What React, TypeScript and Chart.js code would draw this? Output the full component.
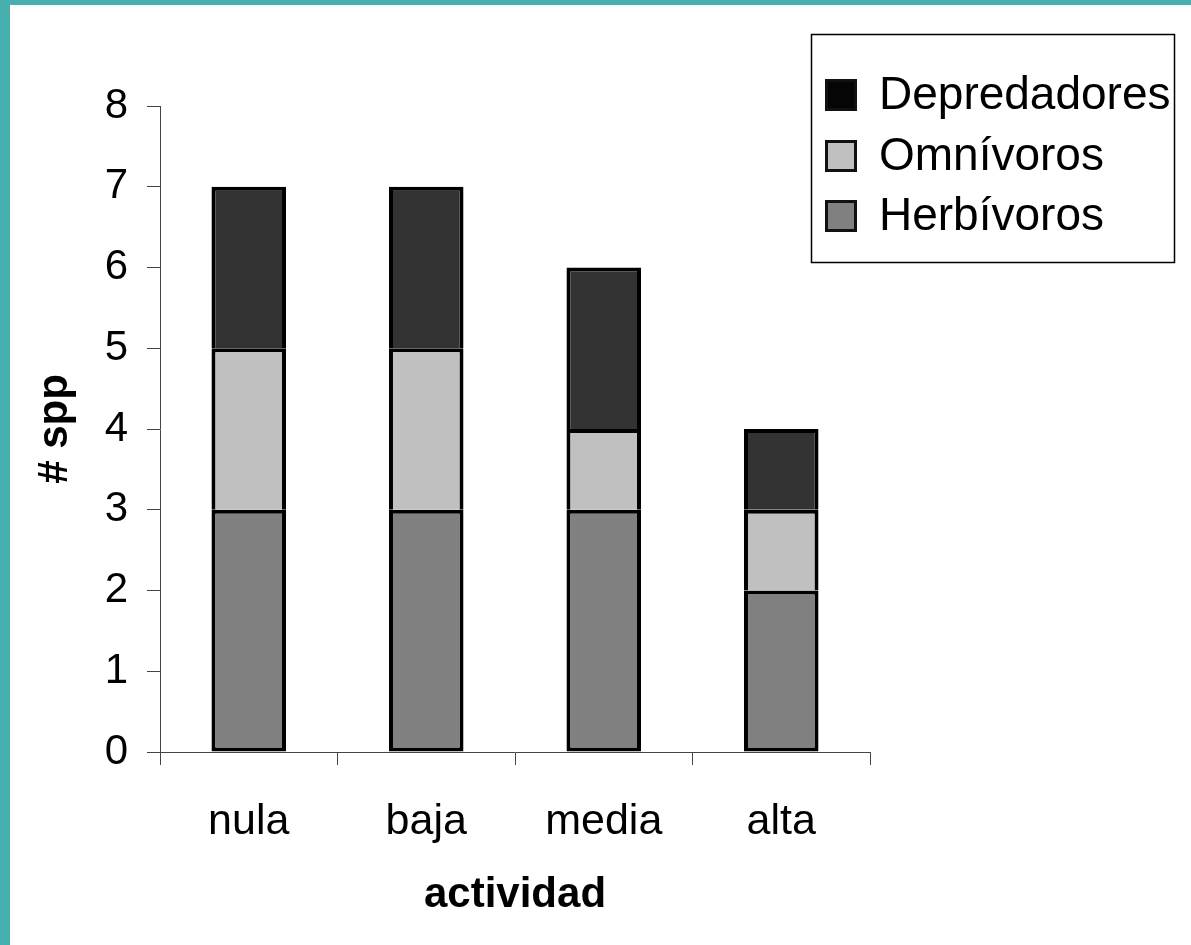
import React, { useEffect, useRef } from "react";
import { Chart, registerables } from "chart.js";

Chart.register(...registerables);

const categories = ["nula", "baja", "media", "alta"];
const herbivoros = [3, 3, 3, 2];
const omnivoros = [2, 2, 1, 1];
const depredadores = [2, 2, 2, 1];
const yMin = 0;
const yMax = 8;
const yStep = 1;
const xTitle = "actividad";
const yTitle = "# spp";
const legendLabels = ["Depredadores", "Omnívoros", "Herbívoros"];

const FONT = "'Liberation Sans', Arial, sans-serif";

const legendPlugin = {
  id: "customLegend",
  afterDraw(chart: any) {
    const ctx = chart.ctx;
    ctx.save();
    ctx.strokeStyle = "#000";
    ctx.lineWidth = 1.5;
    ctx.strokeRect(811.5, 34.5, 363, 228);
    const items = [
      { label: legendLabels[0], fill: "#050505", top: 79, base: 109 },
      { label: legendLabels[1], fill: "#C0C0C0", top: 140, base: 170 },
      { label: legendLabels[2], fill: "#808080", top: 200, base: 230 },
    ];
    ctx.font = `46px ${FONT}`;
    ctx.textBaseline = "alphabetic";
    ctx.textAlign = "left";
    for (const it of items) {
      ctx.fillStyle = it.fill;
      ctx.fillRect(825, it.top, 32, 32);
      ctx.lineWidth = 3;
      ctx.strokeStyle = "#111";
      ctx.strokeRect(826.5, it.top + 1.5, 29, 29);
      ctx.fillStyle = "#000";
      ctx.fillText(it.label, 879, it.base);
    }
    ctx.restore();
  },
};

export default function App() {
  const ref = useRef<HTMLCanvasElement | null>(null);

  useEffect(() => {
    const canvas = ref.current;
    if (!canvas) return;
    const chart = new Chart(canvas, {
      type: "bar",
      data: {
        labels: categories,
        datasets: [
          {
            label: legendLabels[2],
            data: herbivoros,
            backgroundColor: "#808080",
            borderColor: "#000",
            borderWidth: 4,
            borderSkipped: false,
          },
          {
            label: legendLabels[1],
            data: omnivoros,
            backgroundColor: "#C0C0C0",
            borderColor: "#000",
            borderWidth: 4,
            borderSkipped: "start",
          },
          {
            label: legendLabels[0],
            data: depredadores,
            backgroundColor: "#333333",
            borderColor: "#000",
            borderWidth: 4,
            borderSkipped: "start",
          },
        ],
      },
      options: {
        responsive: false,
        animation: false,
        devicePixelRatio: 1,
        datasets: {
          bar: { categoryPercentage: 1, barPercentage: 0.42 },
        },
        layout: { padding: { left: 0, top: 106, right: 321, bottom: 0 } },
        plugins: {
          legend: { display: false },
          tooltip: { enabled: false },
        },
        scales: {
          x: {
            stacked: true,
            offset: true,
            afterFit: (s: any) => {
              s.height = 945 - 752;
            },
            grid: {
              offset: true,
              drawOnChartArea: false,
              drawTicks: true,
              tickLength: 13,
              color: "#444",
              lineWidth: 1,
            },
            border: { display: true, color: "#444", width: 1 },
            ticks: {
              color: "#000",
              font: { family: FONT, size: 43 },
              padding: 31,
            },
            title: {
              display: true,
              text: xTitle,
              color: "#000",
              font: { family: FONT, size: 42, weight: "bold" },
              padding: { top: 0, bottom: 24 },
            },
          },
          y: {
            stacked: true,
            min: yMin,
            max: yMax,
            afterFit: (s: any) => {
              s.width = 160;
            },
            grid: {
              drawOnChartArea: false,
              drawTicks: true,
              tickLength: 13,
              color: "#444",
              lineWidth: 1,
            },
            border: { display: true, color: "#444", width: 1 },
            ticks: {
              stepSize: yStep,
              color: "#000",
              font: { family: FONT, size: 42 },
              padding: 19,
            },
            title: {
              display: true,
              text: yTitle,
              color: "#000",
              font: { family: FONT, size: 42, weight: "bold" },
              padding: { top: 30, bottom: 0 },
            },
          },
        },
      },
      plugins: [legendPlugin],
    });
    return () => chart.destroy();
  }, []);

  return (
    <div
      style={{
        position: "fixed",
        left: 0,
        top: 0,
        width: 1191,
        height: 945,
        background: "#47AFAD",
        overflow: "hidden",
      }}
    >
      <div
        style={{
          position: "absolute",
          left: 10,
          top: 5,
          width: 1181,
          height: 940,
          background: "#FFFFFF",
        }}
      />
      <canvas
        ref={ref}
        width={1191}
        height={945}
        style={{ position: "absolute", left: 0, top: 0 }}
      />
    </div>
  );
}
